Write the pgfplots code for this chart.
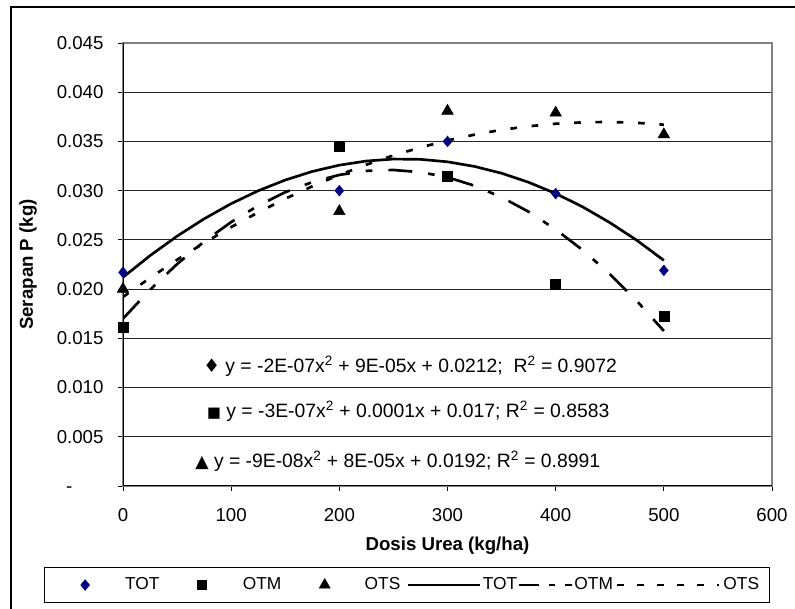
\documentclass[border=0pt]{standalone}
\usepackage{fontspec}
\setmainfont{Liberation Sans}
\newfontfamily\symfont{DejaVu Sans}
\usepackage{pgfplots}
\usepackage{pgfplotstable}
\pgfplotsset{compat=1.18}
\definecolor{navyblue}{HTML}{000080}
\pgfplotsset{
  legmarkA/.style={legend image code/.code={\path[draw=none] (-22.7pt,0pt) -- (30pt,0pt); \draw[##1] plot coordinates {(0pt,0pt)};}},
  legmarkB/.style={legend image code/.code={\path[draw=none] (-31.7pt,0pt) -- (30.75pt,0pt); \draw[##1] plot coordinates {(0pt,0pt)};}},
  legmarkC/.style={legend image code/.code={\path[draw=none] (-32.6pt,0pt) -- (30pt,0pt); \draw[##1] plot coordinates {(0pt,0pt)};}},
  leglineA/.style={legend image code/.code={\path[draw=none] (0pt,0pt) -- (61.8pt,0pt); \draw[##1] (5.5pt,0pt) -- (59.5pt,0pt);}},
  leglineB/.style={legend image code/.code={\path[draw=none] (0pt,0pt) -- (43pt,0pt); \draw[##1] (1.7pt,0pt) -- (41.5pt,0pt);}},
  leglineC/.style={legend image code/.code={\path[draw=none] (0pt,0pt) -- (82.9pt,0pt); \draw[##1] (3.4pt,0pt) -- (79.9pt,0pt);}},
}

% measured points
\pgfplotstableread{
x y
0 0.0217
200 0.0300
300 0.0350
400 0.0297
500 0.0219
}\totpts
\pgfplotstableread{
x y
0 0.0161
200 0.0345
300 0.0315
400 0.0205
500 0.0172
}\otmpts
\pgfplotstableread{
x y
0 0.0200
200 0.0279
300 0.0381
400 0.0379
500 0.0357
}\otspts
% trend lines
\pgfplotstableread{
x y
0 0.02120
25 0.02340
50 0.02538
75 0.02714
100 0.02868
125 0.02999
150 0.03108
175 0.03195
200 0.03259
225 0.03301
250 0.03321
275 0.03318
300 0.03293
325 0.03246
350 0.03177
375 0.03085
400 0.02971
425 0.02835
450 0.02676
475 0.02496
500 0.02292
}\totfit
\pgfplotstableread{
x y
0 0.01700
25 0.01993
50 0.02254
75 0.02483
100 0.02681
125 0.02848
150 0.02984
175 0.03087
200 0.03160
225 0.03201
250 0.03210
275 0.03188
300 0.03136
325 0.03050
350 0.02933
375 0.02786
400 0.02606
425 0.02396
450 0.02154
475 0.01880
500 0.01575
}\otmfit
\pgfplotstableread{
x y
0 0.01920
25 0.02114
50 0.02298
75 0.02469
100 0.02630
125 0.02779
150 0.02918
175 0.03044
200 0.03160
225 0.03264
250 0.03358
275 0.03439
300 0.03510
325 0.03569
350 0.03618
375 0.03654
400 0.03680
425 0.03694
450 0.03698
475 0.03689
500 0.03670
}\otsfit

\begin{document}
\fontsize{14}{17}\selectfont
\begin{tikzpicture}
\useasboundingbox (0,0) rectangle (596.25pt,456.75pt);
\draw[line width=0.8pt] (8.25pt,-10pt) -- (8.25pt,451.5pt) -- (610pt,451.5pt);
\begin{axis}[
  at={(92.25pt,92.25pt)}, anchor=south west,
  scale only axis, width=486.75pt, height=332.25pt,
  xmin=0, xmax=600, ymin=0, ymax=0.045,
  xtick={0,100,200,300,400,500,600},
  ytick={0,0.005,0.01,0.015,0.02,0.025,0.03,0.035,0.04,0.045},
  yticklabels={-\phantom{000},0.005,0.010,0.015,0.020,0.025,0.030,0.035,0.040,0.045},
  scaled y ticks=false,
  /pgf/number format/assume math mode=true,
  tick pos=left, tick align=outside, major tick length=3.75pt,
  tick style={black, line width=0.6pt},
  yticklabel style={xshift=-6pt},
  xticklabel style={yshift=-8pt},
  ymajorgrids, grid style={black!85, line width=0.6pt},
  axis line style={draw=gray, line width=0.8pt},
  xlabel={\bfseries Dosis Urea (kg/ha)},
  ylabel={\bfseries Serapan P (kg)},
  xlabel style={at={(axis description cs:0.5,-0.135)}, anchor=center},
  ylabel style={at={(axis description cs:-0.1464,0.5)}, anchor=center},
  legend columns=6,
  legend style={at={(0.4376,-0.2235)}, anchor=center, draw=black, line width=0.75pt,
    font=\fontsize{13}{15}\selectfont,
    inner xsep=8pt, inner ysep=7.5pt, column sep=0pt,
    nodes={inner sep=0pt}},
]
\draw[black, line width=0.8pt] (rel axis cs:0,0) -- (rel axis cs:0,1);
\draw[black, line width=0.8pt] (rel axis cs:0,0) -- (rel axis cs:1,0);

\addlegendimage{only marks, mark=diamond*, mark size=4pt, mark options={xscale=1.1, fill=navyblue, draw=navyblue, line width=0.4pt}, legmarkA}
\addlegendentry{TOT}
\addlegendimage{only marks, mark=square*, mark size=3.5pt, mark options={fill=black, draw=black, line width=0.4pt}, legmarkB}
\addlegendentry{OTM}
\addlegendimage{only marks, mark=triangle*, mark size=4.8pt, mark options={fill=black, draw=black, line width=0.4pt}, legmarkC}
\addlegendentry{OTS}
\addlegendimage{black, line width=2pt, no markers, leglineA}
\addlegendentry{TOT}
\addlegendimage{black, line width=2pt, no markers, dash pattern=on 15pt off 7pt on 5pt off 7pt, leglineB}
\addlegendentry{OTM}
\addlegendimage{black, line width=2pt, no markers, dash pattern=on 5pt off 10pt, leglineC}
\addlegendentry{OTS}

\addplot[forget plot, black, line width=2pt, no markers] table[x=x,y=y] {\totfit};
\addplot[forget plot, black, line width=2pt, no markers, dash pattern=on 18pt off 12pt on 5pt off 12pt] table[x=x,y=y] {\otmfit};
\addplot[forget plot, black, line width=2pt, no markers, dash pattern=on 5pt off 11pt] table[x=x,y=y] {\otsfit};

\addplot[forget plot, only marks, mark=diamond*, mark size=4pt, mark options={xscale=1.1, fill=navyblue, draw=navyblue, line width=0.4pt}] table[x=x,y=y] {\totpts};
\addplot[forget plot, only marks, mark=square*, mark size=3.7pt, mark options={fill=black, draw=black, line width=0.4pt}] table[x=x,y=y] {\otmpts};
\addplot[forget plot, only marks, mark=triangle*, mark size=5pt, mark options={fill=black, draw=black, line width=0.4pt}] table[x=x,y=y] {\otspts};

\node[anchor=west, inner sep=0pt, font=\fontsize{14.5}{17}\selectfont] at (axis cs:74,0.0122) {{\symfont\fontsize{14}{13}\selectfont ♦}\ y = -2E-07x\textsuperscript{2} + 9E-05x + 0.0212;\ \ R\textsuperscript{2} = 0.9072};
\node[anchor=west, inner sep=0pt, font=\fontsize{14.5}{17}\selectfont] at (axis cs:77.6,0.00755) {{\symfont\fontsize{11}{13}\selectfont ■}\ y = -3E-07x\textsuperscript{2} + 0.0001x + 0.017; R\textsuperscript{2} = 0.8583};
\node[anchor=west, inner sep=0pt, font=\fontsize{14.5}{17}\selectfont] at (axis cs:66.6,0.00247) {{\symfont\fontsize{13}{13}\selectfont ▲}\ y = -9E-08x\textsuperscript{2} + 8E-05x + 0.0192; R\textsuperscript{2} = 0.8991};
\end{axis}
\end{tikzpicture}
\end{document}
